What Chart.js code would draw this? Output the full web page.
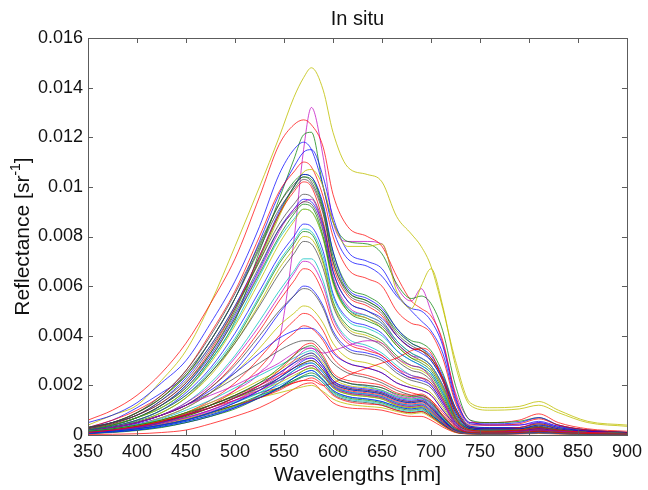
<!DOCTYPE html>
<html>
<head>
<meta charset="utf-8">
<script src="https://cdn.jsdelivr.net/npm/chart.js@4.4.0/dist/chart.umd.min.js"></script>
<style>
  html, body { margin: 0; padding: 0; background: #fff; }
  #wrap { width: 648px; height: 490px; }
</style>
</head>
<body>
<div id="wrap"><canvas id="spectra" width="648" height="490"></canvas></div>
<script>
// wavelengths sampled for every spectrum (nm)
const WL = [350,375,400,425,450,475,500,525,545,560,570,578,590,600,615,635,650,665,680,690,700,712,725,740,760,790,810,830,860,900];

// reflectance values in units of 1e-4 sr^-1
const UNIT = 1e-4;

// lower group, gentle blue flank
const L1  = [1,2,3.5,5.5,8,11,15,20,26,32,36,37,32,25,22,21,20,17,16,16.5,14,8,3,1,0.8,1,1.5,1,0.6,0.4];
const L2  = [1.5,2.5,4,6,9,12,16,21,27,32,35,36,31,24,21,20,19,16.5,15.5,16,13.5,7.5,2.5,1,0.8,1,1.5,1,0.6,0.4];
const L3  = [1,2,3,5,7,10,14,19,24,30,34,35,30,24,21,20,19,16,15,15.5,13,7.5,2.5,1,0.8,1,1.5,1,0.6,0.4];
const L4  = [1.5,2.5,4,6.5,10,14,19,24,28,31,33,34,30,24,21,19.5,18,15.5,14.5,15,12.5,7,2.5,1,0.8,1,1.5,1,0.6,0.4];
const L5  = [1,2,3,5,8,11,15,20,25,29,32,33,28,22,19.5,18.5,17.5,15,14,14.5,12,6.5,2,0.8,0.6,0.8,1.2,0.8,0.5,0.3];
const L6  = [1.5,2.5,4,6,9,13,17,22,26,30,32,33,29,23,20,19,18,15.5,14.5,15,12.5,7,2,0.8,0.6,0.8,1.2,0.8,0.5,0.3];
const L7  = [1,2,3.5,5.5,8,12,16,21,25,29,31,32,28,22,19,18,17,14.5,13.5,14,11.5,6.5,2,0.8,0.6,0.8,1.2,0.8,0.5,0.3];
const L8  = [0.8,1.5,2.5,4,6,9,13,18,23,27,30,31,27,21,18.5,17.5,16.5,14,13,13.5,11,6,2,0.8,0.6,0.8,1.2,0.8,0.5,0.3];
const L9  = [1,2,3,5,7.5,11,15,19,23,27,29,30,26,21,18.5,17.5,16.5,14,13,13.5,11,6,2,0.8,0.6,0.8,1.2,0.8,0.5,0.3];
const L10 = [1.2,2.2,3.5,5.5,8.5,12,16,20,24,27,29,30,26,20.5,18,17,16,13.5,12.5,13,10.5,5.5,1.8,0.7,0.6,0.8,1.2,0.8,0.5,0.3];
const L11 = [0.8,1.5,2.5,4,6,9,13,17,22,26,28,29,25,20,17.5,16.5,15.5,13,12,12.5,10,5.5,1.8,0.7,0.5,0.7,1,0.7,0.4,0.3];
const L12 = [1,2,3,4.5,7,10,14,18,22,25,27,28,24,19.5,17,16,15,12.5,11.5,12,9.5,5,1.6,0.7,0.5,0.7,1,0.7,0.4,0.3];
const L13 = [1,2,3,5,7.5,11,15,18,21,24,26,27,24,19,16.5,15.5,14.5,12,11,11.5,9,5,1.5,0.7,0.5,0.7,1,0.7,0.4,0.3];
const L14 = [1.2,2.2,3.5,5.5,8.5,12,15.5,19,22,25,27,28,24,19.5,17,16,15,12.5,11.5,12,9.5,5,1.5,0.7,0.5,0.7,1,0.7,0.4,0.3];
const L15 = [0.6,1.2,2,3.5,5.5,8,11,15,19,23,25,26,22,18,15.5,14.5,13.5,11.5,10.5,11,8.5,4.5,1.4,0.6,0.5,0.6,1,0.6,0.4,0.3];
const L16 = [0.8,1.5,2.5,4,6,9,12,16,19,22,24,25,22,17.5,15,14,13,11,10,10.5,8,4.5,1.4,0.6,0.5,0.6,1,0.6,0.4,0.3];
const L17 = [0.8,1.5,2.5,4,6,9,12,15,18,21,22,23,20,16,13.5,12.5,12,10,9,9.5,7.5,4,1.2,0.5,0.4,0.6,0.9,0.6,0.4,0.2];
const L18 = [0.7,1.3,2.2,3.5,5.5,8,11.5,15.5,19,22,23.5,24,21,17,14.5,13.5,12.5,10.5,9.5,10,8,4.2,1.3,0.5,0.4,0.6,0.9,0.6,0.4,0.2];
const L19 = [1,2,3,4.5,6.5,9,12,15,17,18.5,19.5,20,17.5,14.5,12.5,11.5,11,9.5,8.5,9,7,3.8,1.1,0.5,0.4,0.6,0.8,0.5,0.3,0.2];
const L20 = [0.2,0.3,0.5,1,2,4.5,7.5,11,15,18.5,20.5,21,17,13,11,10.5,10,8.5,7.5,7.5,6,3.2,1,0.4,0.3,0.4,0.6,0.4,0.3,0.2];
const L21 = [0.5,1,1.8,3,5,7.5,10.5,15,19,23,26,27,23.5,19,16.5,15.5,14.5,12,11,11.5,9,5,1.5,0.6,0.5,0.7,1,0.7,0.4,0.3];
const L22 = [0.6,1.2,2,3.2,5,7.5,11,16,21,26,28.5,29,25,20,17.5,16.5,15.5,13,12,12.5,10,5.5,1.7,0.7,0.5,0.7,1.1,0.7,0.4,0.3];
const L23 = [0.8,1.5,2.5,4,6,8.5,11.5,15,18.5,21.5,23.5,24,21,16.5,14,13,12,10,9,9.5,7.5,4,1.2,0.5,0.4,0.6,0.9,0.6,0.4,0.2];
const L24 = [0.8,1.5,2.5,4,6.5,9.5,13,18,23,28,30.5,31,27,21.5,19,18,17,14.5,13.5,14,11.5,6,2,0.8,0.6,0.8,1.2,0.8,0.5,0.3];
const L25 = [1,1.8,3,4.5,7,10,13.5,17,20,23,25,26,22.5,18,15.5,14.5,13.5,11.5,10.5,11,8.5,4.5,1.4,0.6,0.5,0.6,1,0.6,0.4,0.3];
// two spectra that climb again in the red
const RX  = [1,2,3,5,8,11,14,17,19,21,22,22,20,21,24,27,29,31,34,35,33,22,7,2,1.5,2,3,2,1,0.5];
const MX  = [1.5,3,5,8,12,16,20,25,29,33,35,35,33,34,36,38,37,31,28,27,23,14,4,1.5,1,1.5,2,1.5,1,0.5];

// middle and upper groups, steep flank and sharp green peak
const K7 = [1.5,3,5,8,12,17,23,29,34,37,38,38,34,29,25,23,21,18,16,15,13,8,3,1,1,1.5,2,1.5,0.8,0.5];
const R6 = [1,2,3,5,8,12,18,27,36,41,44,43,38,31,26,24,22,19,17,16,14,9,3.5,1,1,1.5,2,1.5,0.8,0.5];
const B7 = [1.5,3,5,8,12,18,25,33,39,42,43,43,39,33,29,27,25,21,19,18,16,10,4,1,1,1.5,2,1.5,0.8,0.5];
const R5 = [1,2,3.5,6,9,14,21,31,40,46,49,48,42,34,29,27,25,21,19,18,16,10,4,1,1,1.5,2,1.5,0.8,0.5];
const Y5 = [1.5,2.5,4,7,11,17,25,35,44,49,52,51,45,37,31,29,27,23,20,19,17,11,4,1.5,1,1.5,2,1.5,0.8,0.5];
const K6 = [1.5,3,5,8,12,19,28,40,50,56,59,58,51,41,34,32,30,25,22,21,19,12,4.5,1.5,1,1.5,2,1.5,0.8,0.5];
const B6 = [1.5,2.5,4.5,7,11,17,26,38,49,56,60,59,52,42,35,33,31,26,23,22,20,13,5,1.5,1,1.5,2.5,1.5,0.8,0.5];
const R4 = [1.5,3,5,8,12,19,29,42,54,62,67,66,57,45,37,34,32,27,23,23,21,14,5.5,1.5,1,1.5,2.5,1.5,0.8,0.5];
const M3 = [1.5,3,5,8,13,20,31,44,56,65,70,69,60,47,38,35,32,27,24,23,20,13,5,1.5,1,1.5,2.5,1.5,0.8,0.5];
const C3 = [1.5,3,5,8,13,21,32,46,58,66,71,71,62,48,39,36,33,28,24,23,21,14,5.5,1.5,1,1.5,2.5,1.5,0.8,0.5];
const K5 = [2,3.5,6,10,16,25,37,52,65,73,78,77,67,52,42,39,36,30,26,25,22,15,6,2,1.5,2,2.5,1.5,1,0.6];
const Y4 = [1.5,3,5,9,15,24,37,53,67,75,80,79,69,53,43,40,37,31,27,26,23,15,6,2,1.5,2,2.5,1.5,1,0.6];
const G5 = [1.5,3,5.5,9,15,25,38,55,69,77,82,81,70,54,44,41,38,32,28,27,24,16,6.5,2,1.5,2,3,2,1,0.6];
const C2 = [2,3.5,6,10,16,26,39,56,70,78,83,82,72,56,46,43,40,34,30,28,25,17,7,2,1.5,2,3,2,1,0.6];
const B5 = [2,3.5,6,10,17,27,41,58,72,80,85,84,74,57,47,44,41,34,30,28,25,17,7,2.5,2,2,3,2,1,0.6];
const G4 = [2,4,7,12,19,31,47,65,80,89,93,92,80,62,50,46,43,36,31,29,26,18,7,2.5,2,2,3,2,1,0.6];
const Y3 = [2,4,7,11,18,29,44,62,77,86,91,90,79,61,50,47,43,36,31,30,27,19,7.5,2.5,2,2,3,2,1,0.6];
const C1 = [2,4,7,11,18,30,45,64,79,87,91,90,79,62,51,48,45,38,33,31,28,20,8,2.5,2,2,3,2,1,0.6];
const K4 = [2.5,4.5,8,13,21,33,49,68,83,90,94,93,82,63,51,47,44,37,32,30,27,19,8,2.5,2,2,3,2,1,0.6];
const M2 = [2,4,7,12,19,31,47,66,82,91,94,95,83,64,52,48,45,37,32,31,28,20,8,2.5,2,2,3,2,1,0.6];
const B4 = [2,4,7,12,20,32,48,67,83,91,95,94,84,66,54,50,47,40,35,33,30,22,9,3,2.5,2.5,4,2.5,1.5,0.8];
const K3 = [3,5,8,14,22,35,51,70,85,93,97,96,85,66,54,50,46,38,33,31,28,20,8,2.5,2,2,3,2,1,0.6];
const R3 = [2.5,4.5,8,13,21,34,51,72,89,98,102,100,86,68,56,52,48,40,35,34,31,23,10,3,2.5,3,4.5,2.5,1.5,1];
const K2 = [3,5,9,15,25,38,55,75,91,99,103,101,89,70,57,53,49,40,35,34,30,22,9,3,2.5,2.5,3.5,2,1,0.7];
const G3 = [2,4,7,12,20,33,50,71,89,100,104,103,91,72,58,54,50,42,37,35,31,23,10,3,2.5,2.5,4,2.5,1,0.7];
const B3 = [2.5,5,8,14,23,36,52,72,90,100,105,104,93,74,59,55,51,43,37,35,32,24,11,3.5,3,3,5,3,1.5,1];
const K1 = [3,5,9,16,26,40,57,77,93,101,104,102,90,70,58,54,50,41,36,34,31,23,10,3,2.5,2.5,3.5,2,1,0.7];
const G2 = [3,5,9,15,24,38,55,76,93,102,105,104,92,74,60,56,52,43,38,37,34,25,11,3.5,3,3,4.5,3,1.5,1];
const Y2 = [2,5,9,15,24,36,52,70,88,100,106,107,100,86,76,76,77,58,51,60,67,52,28,12,10,10.5,12,9,5,3.5];
const R2 = [3,6,10,16,26,41,58,80,98,106,110,108,96,80,67,63,60,50,45,44,41,31,13,4,4,4.5,6.5,4,2,1];
const B2 = [3,6,11,17,24,38,55,78,97,108,114,115,104,88,74,70,67,57,50,46,42,33,14,4.5,4,4,5.5,3.5,1.5,1];
const B1 = [5,8,13,21,30,45,62,84,105,115,118,115,100,83,71,68,64,56,51,50,46,36,15,5,4.5,5,7,4,2,1];
const G1 = [2,4,7,11,18,30,46,74,95,111,121,122,100,86,78,77,73,61,55,56,53,42,20,6,5,5.5,7,4,2,1];
const R1 = [6,10,16,25,37,53,71,96,117,125,127,125,116,97,84,80,76,64,54,51,48,38,16,5,5,6,8.5,5,2.5,1.5];
const M1 = [1.5,2.5,4,6,9,13,18,25,38,78,115,132,112,86,78,78,77,60,54,59,50,37,17,6,4,4,5,3.5,2,1];
const Y1 = [4,8,12,22,34,53,76,100,120,136,144,148,139,122,108,105,102,88,81,76,68,51,30,13,11,11.5,13.5,10,5.5,4];

const SERIES = [L1,L2,L3,L4,L5,L6,L7,L8,L9,L10,L11,L12,L13,L14,L15,L16,L17,L18,L19,L20,L21,L22,L23,L24,L25,RX,MX,
                K7,R6,B7,R5,Y5,K6,B6,R4,M3,C3,K5,Y4,G5,C2,B5,G4,Y3,C1,K4,M2,B4,K3,R3,K2,G3,B3,K1,G2,Y2,R2,B2,B1,G1,R1,M1,Y1];
const SERIES_COLORS = ['r','g','m','c','b','y','k','b','g','r','c','m','y','k','b','g','r','c','y','r','g','b','k','m','c','r','m',
                       'k','r','b','r','y','k','b','r','m','c','k','y','g','c','b','g','y','c','k','m','b','k','r','k','g','b','k','g','y','r','b','b','g','r','m','y'];

const X_TICKS = [350,400,450,500,550,600,650,700,750,800,850,900];
const Y_TICKS = [0,0.002,0.004,0.006,0.008,0.01,0.012,0.014,0.016];

// matlab-ish line colours
const PALETTE = {
  b: 'rgba(0,0,255,0.72)',
  g: 'rgba(0,128,0,0.72)',
  r: 'rgba(255,0,0,0.72)',
  c: 'rgba(0,191,191,0.75)',
  m: 'rgba(191,0,191,0.72)',
  y: 'rgba(191,191,0,0.8)',
  k: 'rgba(64,64,64,0.72)'
};
const AXIS = '#5c5c5c';
const TEXT = '#111';

Chart.defaults.font.family = "'Liberation Sans', Arial, Helvetica, sans-serif";

const datasets = SERIES.map((vals, i) => ({
  data: WL.map((w, j) => ({ x: w, y: vals[j] * UNIT })),
  borderColor: PALETTE[SERIES_COLORS[i]],
  borderWidth: 1,
  pointRadius: 0,
  fill: false,
  cubicInterpolationMode: 'monotone'
}));

// box with inward ticks on all four sides
const boxTicks = {
  id: 'boxTicks',
  afterDatasetsDraw(chart) {
    const { ctx, chartArea: a, scales } = chart;
    const len = 5;
    ctx.save();
    ctx.strokeStyle = AXIS;
    ctx.lineWidth = 1;
    ctx.beginPath();
    X_TICKS.forEach(v => {
      const x = Math.round(scales.x.getPixelForValue(v)) + 0.5;
      ctx.moveTo(x, a.bottom); ctx.lineTo(x, a.bottom - len);
      ctx.moveTo(x, a.top);    ctx.lineTo(x, a.top + len);
    });
    Y_TICKS.forEach(v => {
      const y = Math.round(scales.y.getPixelForValue(v)) + 0.5;
      ctx.moveTo(a.left, y);  ctx.lineTo(a.left + len, y);
      ctx.moveTo(a.right, y); ctx.lineTo(a.right - len, y);
    });
    ctx.stroke();
    ctx.strokeRect(Math.round(a.left) + 0.5, Math.round(a.top) + 0.5,
                   Math.round(a.right - a.left), Math.round(a.bottom - a.top));
    ctx.restore();
  }
};

// rotated y title with superscript unit
const yTitle = {
  id: 'yTitle',
  afterDraw(chart) {
    const { ctx, chartArea: a } = chart;
    const fam = Chart.defaults.font.family;
    const main = 'Reflectance [sr', sup = '-1', end = ']';
    ctx.save();
    ctx.fillStyle = TEXT;
    ctx.font = '21px ' + fam;
    const w1 = ctx.measureText(main).width, w3 = ctx.measureText(end).width;
    ctx.font = '14px ' + fam;
    const w2 = ctx.measureText(sup).width;
    const total = w1 + w2 + w3;
    ctx.translate(23, (a.top + a.bottom) / 2);
    ctx.rotate(-Math.PI / 2);
    ctx.textBaseline = 'middle';
    ctx.textAlign = 'left';
    let x = -total / 2;
    ctx.font = '21px ' + fam;
    ctx.fillText(main, x, 0);
    x += w1;
    ctx.font = '14px ' + fam;
    ctx.fillText(sup, x, -7);
    x += w2;
    ctx.font = '21px ' + fam;
    ctx.fillText(end, x, 0);
    ctx.restore();
  }
};

new Chart(document.getElementById('spectra'), {
  type: 'line',
  data: { datasets },
  options: {
    responsive: false,
    animation: false,
    parsing: false,
    normalized: true,
    layout: { padding: { left: 0, right: 17, top: 0, bottom: 0 } },
    plugins: {
      legend: { display: false },
      tooltip: { enabled: false },
      title: {
        display: true,
        fullSize: false,
        text: 'In situ',
        color: TEXT,
        font: { size: 20, weight: 'normal' },
        padding: { top: 7, bottom: 7 }
      }
    },
    scales: {
      x: {
        type: 'linear',
        min: 350, max: 900,
        afterFit: s => { s.height = 55; },
        afterBuildTicks: s => { s.ticks = X_TICKS.map(v => ({ value: v })); },
        grid: { display: false, drawTicks: false },
        border: { display: false },
        ticks: { color: TEXT, font: { size: 18 }, padding: 6, autoSkip: false, maxRotation: 0 },
        title: { display: true, text: 'Wavelengths [nm]', color: TEXT, font: { size: 21 }, padding: { top: 0, bottom: 2 } }
      },
      y: {
        type: 'linear',
        min: 0, max: 0.016,
        afterFit: s => { s.width = 88; },
        afterBuildTicks: s => { s.ticks = Y_TICKS.map(v => ({ value: v })); },
        grid: { display: false, drawTicks: false },
        border: { display: false },
        ticks: {
          color: TEXT, font: { size: 18 }, padding: 5,
          callback: v => String(parseFloat(v.toFixed(3)))
        }
      }
    }
  },
  plugins: [boxTicks, yTitle]
});
</script>
</body>
</html>
